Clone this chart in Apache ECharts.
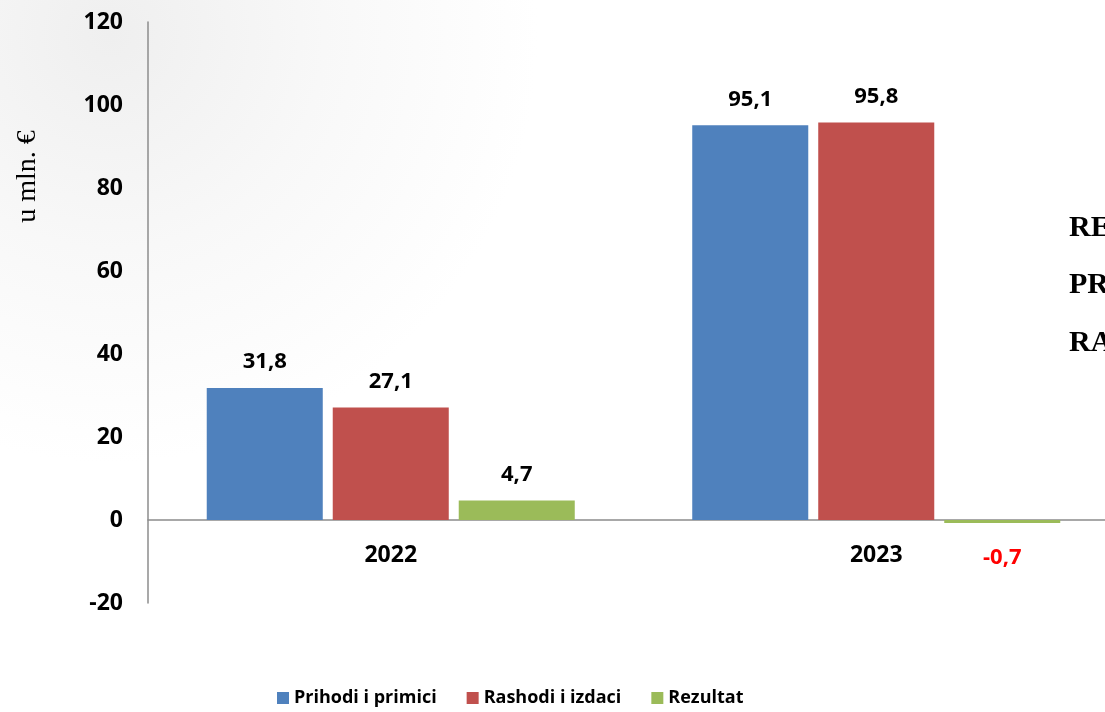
<!DOCTYPE html>
<html lang="hr">
<head>
    <meta charset="UTF-8">
    <title>Prihodi i rashodi</title>
    <script src="https://cdn.jsdelivr.net/npm/echarts@6/dist/echarts.min.js"></script>
    <style>
        body { padding: 0; margin: 0; }
        #chart { width: 1105px; height: 712px; }
    </style>
</head>
<body>
    <div id="chart"></div>
    <script>
        const years = ['2022', '2023'];
        const prihodi = [31.8, 95.1];
        const rashodi = [27.1, 95.8];
        const rezultat = [4.7, -0.7];
        const sideNotes = ['REZULTAT', 'PRIHODI', 'RASHODI'];

        const fmt = v => String(v).replace('.', ',');
        const bold = size => ({ fontFamily: 'Open Sans', fontWeight: 'bold', fontSize: size, color: '#000' });

        function bar(name, data, color) {
            return {
                name: name,
                type: 'bar',
                data: data.map(v => ({
                    value: v,
                    label: v < 0
                        ? { position: 'bottom', distance: 24, color: '#ff0000' }
                        : {}
                })),
                itemStyle: { color: color },
                barGap: '8.6%',
                barCategoryGap: '24.2%',
                label: Object.assign({ show: true, position: 'top', distance: 15,
                    formatter: p => fmt(p.value) }, bold(22))
            };
        }

        const chart = echarts.init(document.getElementById('chart'));
        chart.setOption({
            backgroundColor: new echarts.graphic.RadialGradient(0.1, 0.05, 0.6, [
                { offset: 0, color: '#efefef' },
                { offset: 0.5, color: '#f8f8f8' },
                { offset: 1, color: '#ffffff' }
            ]),
            animation: false,
            grid: { left: 148, right: -14, top: 22, bottom: 109, outerBoundsMode: 'none', containLabel: false },
            legend: {
                bottom: 0,
                left: 272,
                itemWidth: 12,
                itemHeight: 12,
                itemGap: 30,
                icon: 'rect',
                textStyle: bold(18),
                data: ['Prihodi i primici', 'Rashodi i izdaci', 'Rezultat']
            },
            xAxis: {
                type: 'category',
                data: years,
                offset: -83,
                axisLine: { onZero: false, lineStyle: { color: '#8c8c8c', width: 1.5 } },
                axisTick: { show: false },
                axisLabel: Object.assign({ margin: 24 }, bold(23))
            },
            yAxis: {
                type: 'value',
                min: -20,
                max: 120,
                interval: 20,
                name: 'u mln. €',
                nameLocation: 'middle',
                nameRotate: 90,
                nameGap: 106,
                nameTextStyle: { fontFamily: 'Liberation Serif', fontSize: 28, color: '#000', padding: [0, 0, 0, 272] },
                axisLine: { show: true, lineStyle: { color: '#8c8c8c', width: 1.5 } },
                axisTick: { show: false },
                splitLine: { show: false },
                axisLabel: Object.assign({ margin: 25 }, bold(23))
            },
            graphic: sideNotes.map((t, i) => ({
                type: 'text',
                x: 1069,
                y: 228 + i * 57.5,
                style: { text: t, font: 'bold 30px "Liberation Serif"', fill: '#000', verticalAlign: 'middle' }
            })),
            series: [
                bar('Prihodi i primici', prihodi, '#4f81bd'),
                bar('Rashodi i izdaci', rashodi, '#c0504d'),
                bar('Rezultat', rezultat, '#9bbb59')
            ]
        });
    </script>
</body>
</html>
